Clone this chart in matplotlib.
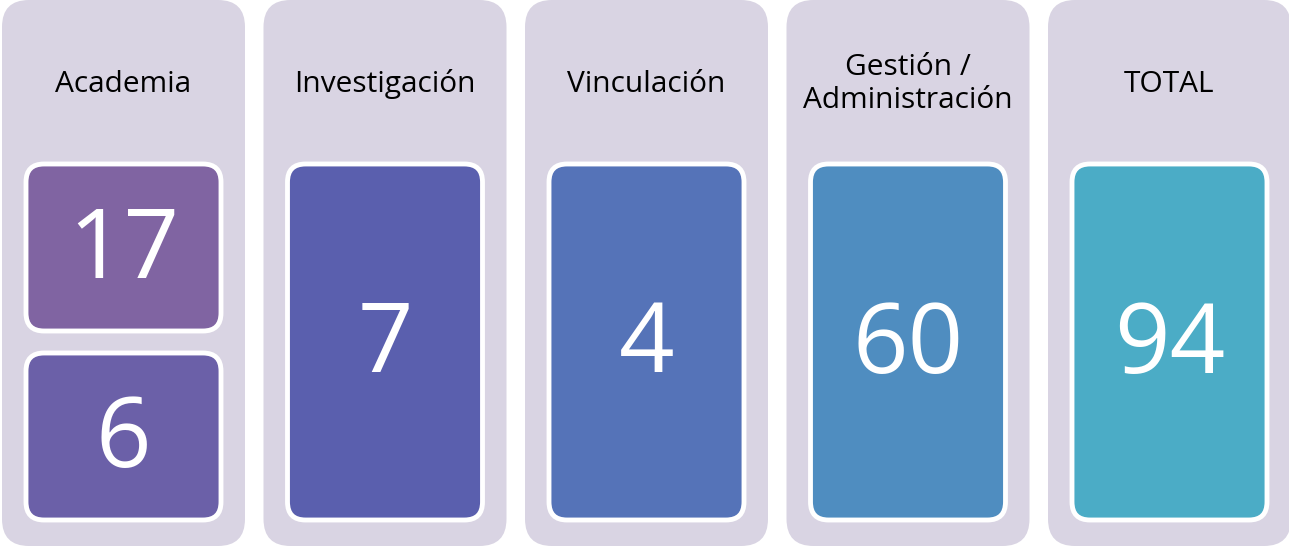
import matplotlib
matplotlib.use("Agg")
import matplotlib.pyplot as plt
from matplotlib.patches import FancyBboxPatch

# ---- data ----
categories = ["Academia", "Investigación", "Vinculación", "Gestión /\nAdministración", "TOTAL"]
values = [[17, 6], [7], [4], [60], [94]]

# ---- styles ----
bg_color = "#D9D4E3"
box_colors = [["#8064A2", "#6B60A8"], ["#5A5FAE"], ["#5573B8"], ["#4F8DC0"], ["#4BACC6"]]

W, H = 1289, 547
fig = plt.figure(figsize=(W / 100, H / 100), dpi=100)
ax = fig.add_axes([0, 0, 1, 1])
ax.set_xlim(0, W)
ax.set_ylim(H, 0)
ax.axis("off")

col_w = 243
col_step = 261.5
col_x0 = 2
inner_pad = 24
inner_top = 164
inner_bot = 520
gap = 22

for i, (cat, vals) in enumerate(zip(categories, values)):
    x0 = col_x0 + i * col_step
    R = 27
    ax.add_patch(FancyBboxPatch((x0 + R, 0 + R), col_w - 2 * R, H - 1 - 2 * R,
                                boxstyle=f"round,pad={R}", fc=bg_color, ec="none"))
    ax.text(x0 + col_w / 2, 84, cat, ha="center", va="center", fontsize=21.5,
            family="Open Sans", color="black", linespacing=1.2)
    n = len(vals)
    total_h = inner_bot - inner_top
    box_h = (total_h - gap * (n - 1)) / n
    for j, v in enumerate(vals):
        by = inner_top + j * (box_h + gap)
        bx = x0 + inner_pad
        bw = col_w - 2 * inner_pad
        r = 18
        ax.add_patch(FancyBboxPatch((bx + r, by + r), bw - 2 * r, box_h - 2 * r,
                                    boxstyle=f"round,pad={r}", fc=box_colors[i][j],
                                    ec="white", lw=3.5))
        ax.text(bx + bw / 2, by + box_h / 2 + 5, str(v), ha="center", va="center",
                fontsize=70, family="Open Sans", color="white")

fig.savefig("out.png", dpi=100, facecolor="white")
